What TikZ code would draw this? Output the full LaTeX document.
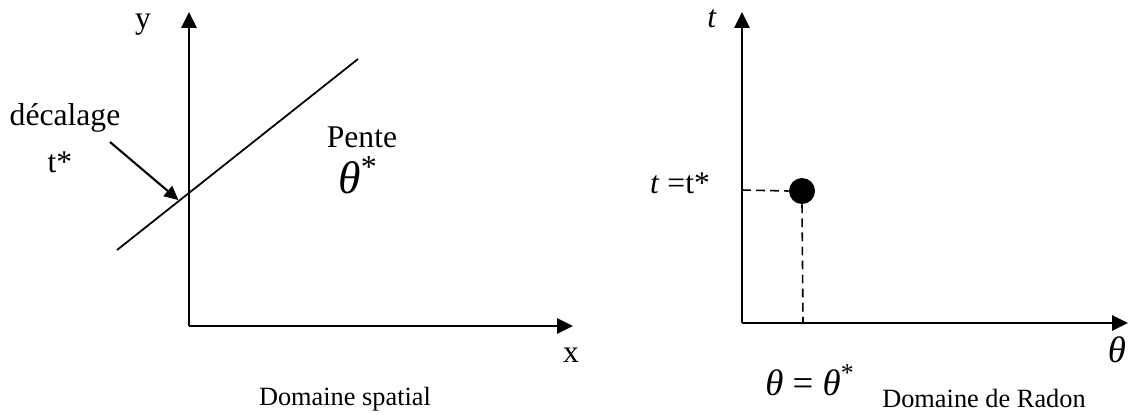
\documentclass[tikz,border=0pt]{standalone}
\usepackage{fontspec}
\setmainfont{Liberation Serif}
\usepackage{tikz}
\usetikzlibrary{arrows.meta,positioning}

\begin{document}
\begin{tikzpicture}[
      x=0.02cm, y=-0.02cm,
      font=\fontsize{18}{21}\selectfont,
      axis/.style={-{Triangle[length=9pt, width=8.5pt]}, line width=1.6pt},
      arr/.style={-{Triangle[length=8pt, width=7.5pt]}, line width=1.2pt},
      guide/.style={dashed, line width=0.9pt, dash pattern=on 5pt off 3pt},
      lbl/.style={inner sep=0pt, anchor=base},
      captxt/.style={inner sep=0pt, anchor=base, font=\fontsize{15}{18}\selectfont}
    ]
    \useasboundingbox (0,0) rectangle (1129,414);
    % domaine spatial
    \coordinate (o1) at (189,326);
    \coordinate (y1) at (189,12);
    \coordinate (x1) at (573,326);
    \coordinate (l1) at (117,250);
    \coordinate (l2) at (358,59);
    \coordinate (c1) at (189,193);
    \coordinate (a1) at (110,142);
    \draw[axis] (o1) -- (y1);
    \draw[axis] (o1) -- (x1);
    \draw[line width=1pt] (l1) -- (l2);
    \draw[arr] (a1) -- ([xshift=-6, yshift=-4]c1);
    \node[lbl] (ly) at (143,28) {y};
    \node[lbl] (lx) at (571,362) {x};
    \node[lbl] (dec) at (65,125) {décalage};
    \node[lbl] (ts) at (60,172) {t*};
    \node[lbl] (pente) at (362,147) {Pente};
    \node[lbl, font=\fontsize{26}{30}\selectfont] (th1) at (358,193) {\textit{θ}\textsuperscript{*}};
    \node[captxt] (dom1) at (345,405) {Domaine spatial};
    % domaine de Radon
    \coordinate (o2) at (742,323);
    \coordinate (y2) at (742,12);
    \coordinate (x2) at (1128,323);
    \coordinate (h2) at (742,190);
    \coordinate (v2) at (803,323);
    \node[circle, fill, minimum size=26*0.02cm, inner sep=0pt] (pt) at (802,191) {};
    \draw[axis] (o2) -- (y2);
    \draw[axis] (o2) -- (x2);
    \draw[guide] (h2) -- (pt.west);
    \draw[guide] (pt.south) -- (v2);
    \node[lbl] (lt) at (712,27) {\textit{t}};
    \node[lbl] (tt) at (680,193) {\textit{t} =t*};
    \node[lbl, font=\fontsize{21}{24}\selectfont] (lth) at (1117,362) {\textit{θ}};
    \node[lbl, font=\fontsize{21}{24}\selectfont] (thth) at (810,395) {\textit{θ} = \textit{θ}\textsuperscript{*}};
    \node[captxt] (dom2) at (984,407) {Domaine de Radon};
  \end{tikzpicture}
\end{document}
